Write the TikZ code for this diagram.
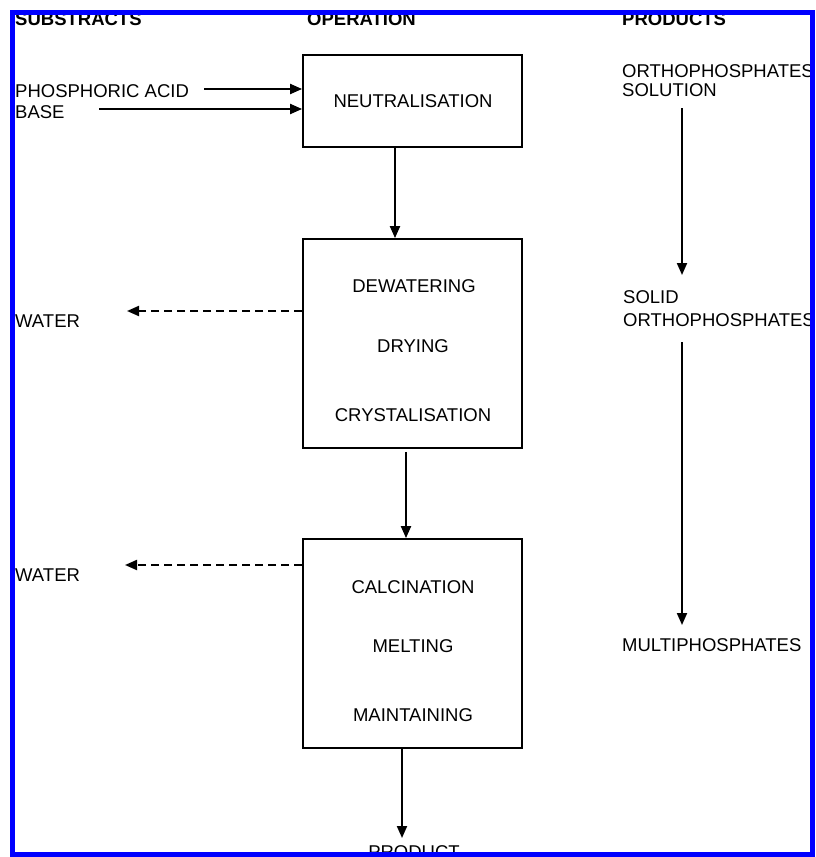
\documentclass[tikz,border=0pt]{standalone}
\usepackage{fontspec}
\setmainfont{Liberation Sans}
\usetikzlibrary{arrows.meta}
\begin{document}
\begin{tikzpicture}[x=1pt,y=-1pt,
  txt/.style={inner sep=0pt,anchor=base west,font=\fontsize{18.5}{20}\selectfont},
  ctxt/.style={inner sep=0pt,anchor=base,font=\fontsize{18.5}{20}\selectfont},
  hdr/.style={inner sep=0pt,anchor=base west,font=\fontsize{18.5}{20}\selectfont\bfseries},
  opbox/.style={draw,line width=1.8pt,minimum width=219pt,inner sep=0pt},
  arr/.style={line width=2pt,-{Triangle[length=12pt,width=10pt]}},
  darr/.style={line width=2pt,dash pattern=on 8pt off 5pt,-{Triangle[length=12pt,width=10pt]}}]
\useasboundingbox (0,0) rectangle (815,857);
\fill[white] (0,0) rectangle (815,857);
\begin{scope}
\clip (14.5,12.5) rectangle (812.5,854.5);
% headers
\node[hdr] (hsub) at (15,25) {SUBSTRACTS};
\node[hdr] (hop) at (307,25) {OPERATION};
\node[hdr] (hprod) at (622,25) {PRODUCTS};
% boxes
\node[opbox,minimum height=92pt] (box1) at (412.5,101) {};
\node[opbox,minimum height=209pt] (box2) at (412.5,343.5) {};
\node[opbox,minimum height=209pt] (box3) at (412.5,643.5) {};
% box texts
\node[ctxt] (neu) at (413,107) {NEUTRALISATION};
\node[ctxt] (dew) at (414,292) {DEWATERING};
\node[ctxt] (dry) at (413,352) {DRYING};
\node[ctxt] (cry) at (413,421) {CRYSTALISATION};
\node[ctxt] (cal) at (413,593) {CALCINATION};
\node[ctxt] (mel) at (413,652) {MELTING};
\node[ctxt] (mai) at (413,721) {MAINTAINING};
% substrates
\node[txt] (phos) at (15,97) {PHOSPHORIC ACID};
\node[txt] (base) at (15,118) {BASE};
\node[txt] (w1) at (15,327) {WATER};
\node[txt] (w2) at (15,581) {WATER};
% products
\node[txt] (ortho) at (622,77) {ORTHOPHOSPHATES};
\node[txt] (sol) at (622,96) {SOLUTION};
\node[txt] (solid) at (623,303) {SOLID};
\node[txt] (ortho2) at (623,326) {ORTHOPHOSPHATES};
\node[txt] (multi) at (622,651) {MULTIPHOSPHATES};
\node[ctxt] (prod) at (414,858) {PRODUCT};
% coordinates
\coordinate (pa) at (204,89);
\coordinate (ba) at (99,109);
\coordinate (wa1) at (127,311);
\coordinate (wa2) at (125,565);
\coordinate (pr1s) at (682,108);
\coordinate (pr1e) at (682,275);
\coordinate (pr2s) at (682,342);
\coordinate (pr2e) at (682,625);
\coordinate (pe) at (402,838);
% connectors
\draw[arr] (pa) -- ([yshift=12pt]box1.west);
\draw[arr] (ba) -- ([yshift=-8pt]box1.west);
\draw[arr] ([xshift=-17.5pt]box1.south) -- ([xshift=-17.5pt]box2.north);
\draw[arr] ([xshift=-6.5pt,yshift=-3pt]box2.south) -- ([xshift=-6.5pt]box3.north);
\draw[arr] ([xshift=-10.5pt]box3.south) -- (pe);
\draw[darr] ([yshift=32.5pt]box2.west) -- (wa1);
\draw[darr] ([yshift=78.5pt]box3.west) -- (wa2);
\draw[arr] (pr1s) -- (pr1e);
\draw[arr] (pr2s) -- (pr2e);
\end{scope}
\draw[blue,line width=5pt] (12.5,12.5) rectangle (812.5,854.5);
\end{tikzpicture}
\end{document}
